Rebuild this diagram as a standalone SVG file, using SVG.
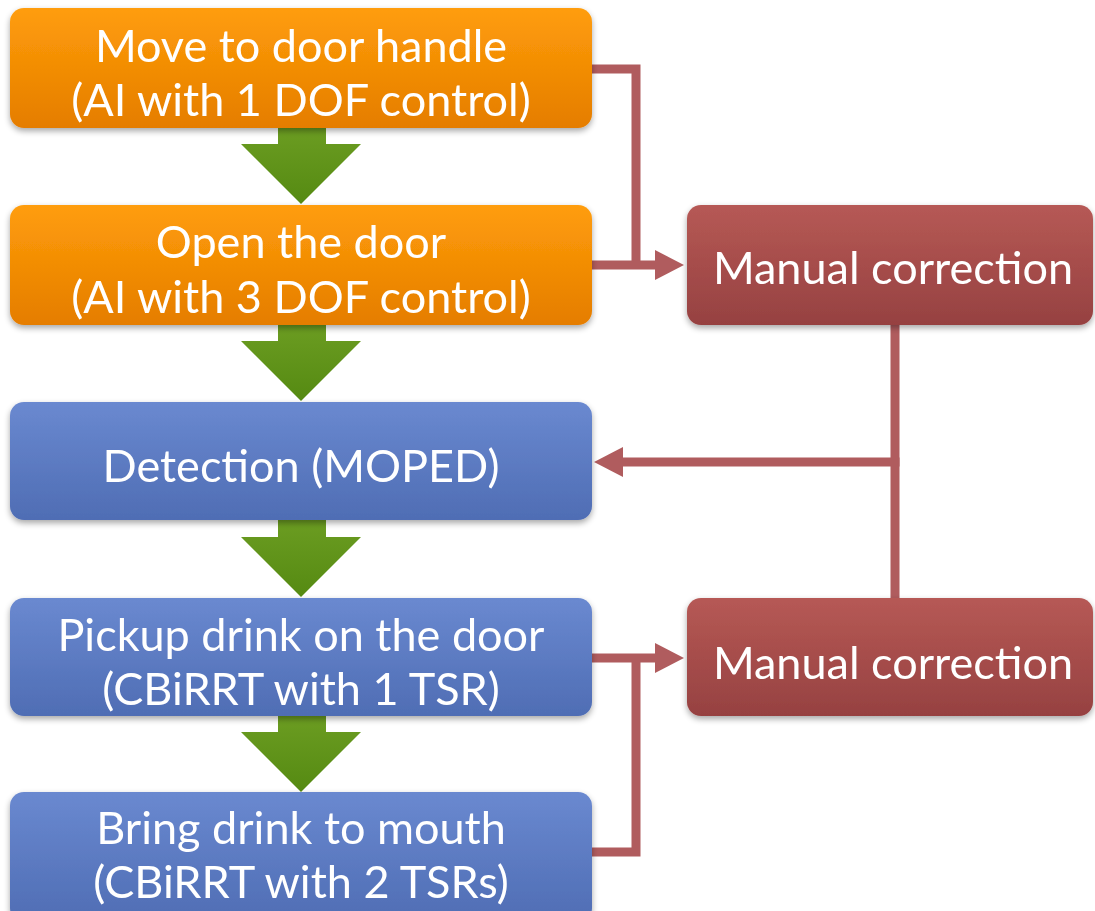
<svg xmlns="http://www.w3.org/2000/svg" width="1095" height="911" viewBox="0 0 1095 911">
<defs>
<linearGradient id="gOr" x1="0" y1="0" x2="0" y2="1"><stop offset="0" stop-color="#ff9d0a"/><stop offset="1" stop-color="#e57d00"/></linearGradient>
<linearGradient id="gBl" x1="0" y1="0" x2="0" y2="1"><stop offset="0" stop-color="#6a89d0"/><stop offset="1" stop-color="#4f6db4"/></linearGradient>
<linearGradient id="gRd" x1="0" y1="0" x2="0" y2="1"><stop offset="0" stop-color="#b65955"/><stop offset="1" stop-color="#964141"/></linearGradient>
<linearGradient id="gGr" x1="0" y1="0" x2="0" y2="1"><stop offset="0" stop-color="#6c9d22"/><stop offset="1" stop-color="#558a12"/></linearGradient>
<filter id="sh" x="-10%" y="-10%" width="120%" height="130%"><feGaussianBlur in="SourceAlpha" stdDeviation="3"/><feOffset dy="3"/><feComponentTransfer><feFuncA type="linear" slope="0.35"/></feComponentTransfer><feMerge><feMergeNode/><feMergeNode in="SourceGraphic"/></feMerge></filter>
</defs>
<style>
text{font-family:Lato,"Open Sans","Liberation Sans",sans-serif;font-size:45px;fill:#ffffff;text-anchor:middle}
.or{fill:url(#gOr)}
.bl{fill:url(#gBl)}
.rd{fill:url(#gRd)}
.gr{fill:url(#gGr)}
.cn{fill:none;stroke:#b05c5e;stroke-width:9;stroke-linejoin:miter}
.hd{fill:#b05c5e}
</style>
<g id="flow-arrows">
<path class="gr" d="M278,126 H326 V144 H361 L301,204 L241,144 H278 Z"/>
<path class="gr" d="M278,323 H326 V341 H361 L301,401 L241,341 H278 Z"/>
<path class="gr" d="M278,518 H326 V537 H361 L301,597 L241,537 H278 Z"/>
<path class="gr" d="M278,714 H326 V732 H361 L301,792 L241,732 H278 Z"/>
</g>
<g id="connectors">
<path class="cn" d="M590,69 H636 V265"/>
<path class="cn" d="M590,265 H657"/>
<polygon class="hd" points="655,250 684,265 655,280"/>
<path class="cn" d="M895,325 V598"/>
<path class="cn" d="M899.5,462 H620"/>
<polygon class="hd" points="623,447 594,462 623,477"/>
<path class="cn" d="M590,852 H636 V658"/>
<path class="cn" d="M590,658 H657"/>
<polygon class="hd" points="655,643 684,658 655,673"/>
</g>
<g id="n1" filter="url(#sh)"><rect class="or" x="10" y="8" width="582" height="120" rx="14"/><text x="301" y="62">Move to door handle</text><text x="301" y="116">(AI with 1 DOF control)</text></g>
<g id="n2" filter="url(#sh)"><rect class="or" x="10" y="205" width="582" height="120" rx="14"/><text x="301" y="258">Open the door</text><text x="301" y="313">(AI with 3 DOF control)</text></g>
<g id="n3" filter="url(#sh)"><rect class="bl" x="10" y="402" width="582" height="118" rx="14"/><text x="301" y="482">Detection (MOPED)</text></g>
<g id="n4" filter="url(#sh)"><rect class="bl" x="10" y="598" width="582" height="118" rx="14"/><text x="301" y="651">Pickup drink on the door</text><text x="301" y="705">(CBiRRT with 1 TSR)</text></g>
<g id="n5" filter="url(#sh)"><rect class="bl" x="10" y="792" width="582" height="130" rx="14"/><text x="301" y="844">Bring drink to mouth</text><text x="301" y="898">(CBiRRT with 2 TSRs)</text></g>
<g id="m1" filter="url(#sh)"><rect class="rd" x="687" y="205" width="406" height="120" rx="14"/><text x="893" y="284">Manual correction</text></g>
<g id="m2" filter="url(#sh)"><rect class="rd" x="687" y="598" width="406" height="118" rx="14"/><text x="893" y="679">Manual correction</text></g>
</svg>
